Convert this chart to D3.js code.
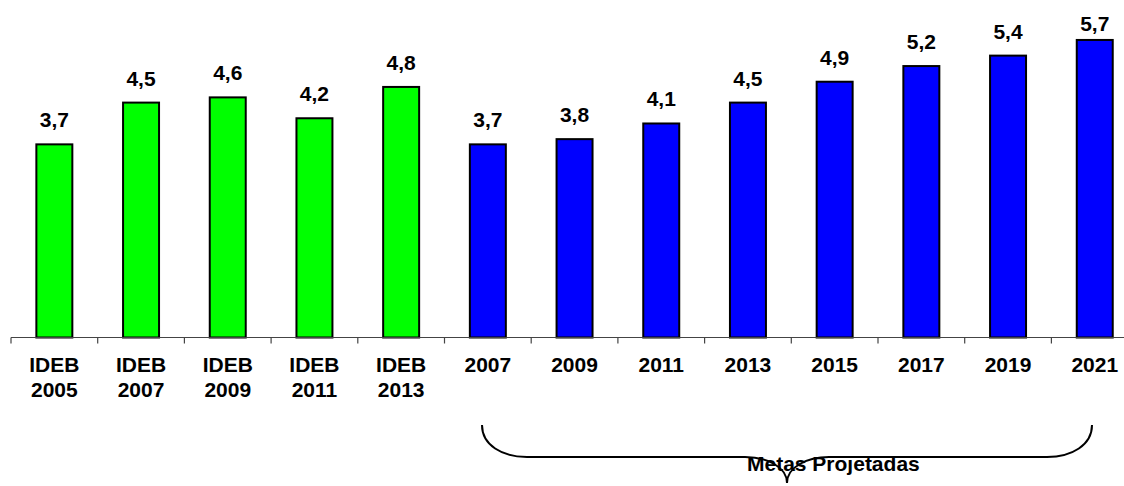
<!DOCTYPE html>
<html>
<head>
<meta charset="utf-8">
<script src="https://cdn.jsdelivr.net/npm/d3@7/dist/d3.min.js"></script>
<style>
html,body{margin:0;padding:0;background:#fff;}
svg{display:block;font-family:"Liberation Sans",Arial,sans-serif;font-weight:bold;}
</style>
</head>
<body>
<svg id="chart" width="1124" height="486"></svg>
<script>
const categories = [
  ["IDEB","2005"],["IDEB","2007"],["IDEB","2009"],["IDEB","2011"],["IDEB","2013"],
  ["2007"],["2009"],["2011"],["2013"],["2015"],["2017"],["2019"],["2021"]
];
const values = [3.7, 4.5, 4.6, 4.2, 4.8, 3.7, 3.8, 4.1, 4.5, 4.9, 5.2, 5.4, 5.7];
const groups = ["ideb","ideb","ideb","ideb","ideb","meta","meta","meta","meta","meta","meta","meta","meta"];
const valueLabels = ["3,7","4,5","4,6","4,2","4,8","3,7","3,8","4,1","4,5","4,9","5,2","5,4","5,7"];
const bracketText = "Metas Projetadas";
const colors = {ideb:"#00FF00", meta:"#0000FF"};

(function(){
const svg = d3.select("#chart");
const idx = d3.range(values.length);

const x = d3.scaleBand().domain(idx).range([11, 11 + 13 * 86.7]).padding(0);
const y = d3.scaleLinear().domain([0, 1]).range([337.5, 337.5 - 52.2]);

const barW = x.bandwidth() * 0.415;

// bars
svg.append("g").selectAll("rect").data(idx).join("rect")
  .attr("x", i => x(i) + (x.bandwidth() - barW) / 2)
  .attr("y", i => y(values[i]))
  .attr("width", barW)
  .attr("height", i => y(0) - y(values[i]))
  .attr("fill", i => colors[groups[i]])
  .attr("stroke", "#000")
  .attr("stroke-width", 2);

// axis
const axis = svg.append("g").attr("transform", `translate(0,${y(0)})`);
axis.append("line").attr("x1", 11).attr("x2", 1124).attr("y1", 0).attr("y2", 0)
  .attr("stroke", "#444").attr("stroke-width", 1.2);
axis.selectAll("line.tick").data(idx).join("line").attr("class", "tick")
  .attr("x1", i => x(i)).attr("x2", i => x(i)).attr("y1", 0).attr("y2", 6)
  .attr("stroke", "#444").attr("stroke-width", 1.2);

// category labels
const lab = svg.append("g").selectAll("text").data(idx).join("text")
  .attr("text-anchor", "middle")
  .attr("font-size", 21)
  .attr("fill", "#000")
  .attr("x", i => x(i) + x.bandwidth() / 2)
  .attr("y", 371.5);
lab.each(function(i){
  const t = d3.select(this);
  categories[i].forEach((line, k) => {
    t.append("tspan").attr("x", x(i) + x.bandwidth() / 2).attr("dy", k === 0 ? 0 : 25).text(line);
  });
});

// value labels
svg.append("g").selectAll("text").data(idx).join("text")
  .attr("text-anchor", "middle")
  .attr("font-size", 21)
  .attr("fill", "#000")
  .attr("x", i => x(i) + x.bandwidth() / 2)
  .attr("y", i => Math.max(y(values[i]) - 17, 31))
  .text(i => valueLabels[i]);

// bracket under projected goals
const bl = 482, br = 1092, bTop = 425, by = 457, tip = 483;
const mid = (bl + br) / 2;
const p = d3.path();
p.moveTo(bl, bTop);
p.bezierCurveTo(bl, 445, bl + 20, by, bl + 45, by);
p.lineTo(mid - 42, by);
p.bezierCurveTo(mid - 20, by, mid, by + 10, mid, tip);
p.bezierCurveTo(mid, by + 10, mid + 20, by, mid + 42, by);
p.lineTo(br - 45, by);
p.bezierCurveTo(br - 20, by, br, 445, br, bTop);
svg.append("path").attr("d", p.toString()).attr("fill", "none")
  .attr("stroke", "#000").attr("stroke-width", 2);

svg.append("text").attr("x", 747).attr("y", 471).attr("font-size", 21)
  .attr("fill", "#000").text(bracketText);
})();
</script>
</body>
</html>
